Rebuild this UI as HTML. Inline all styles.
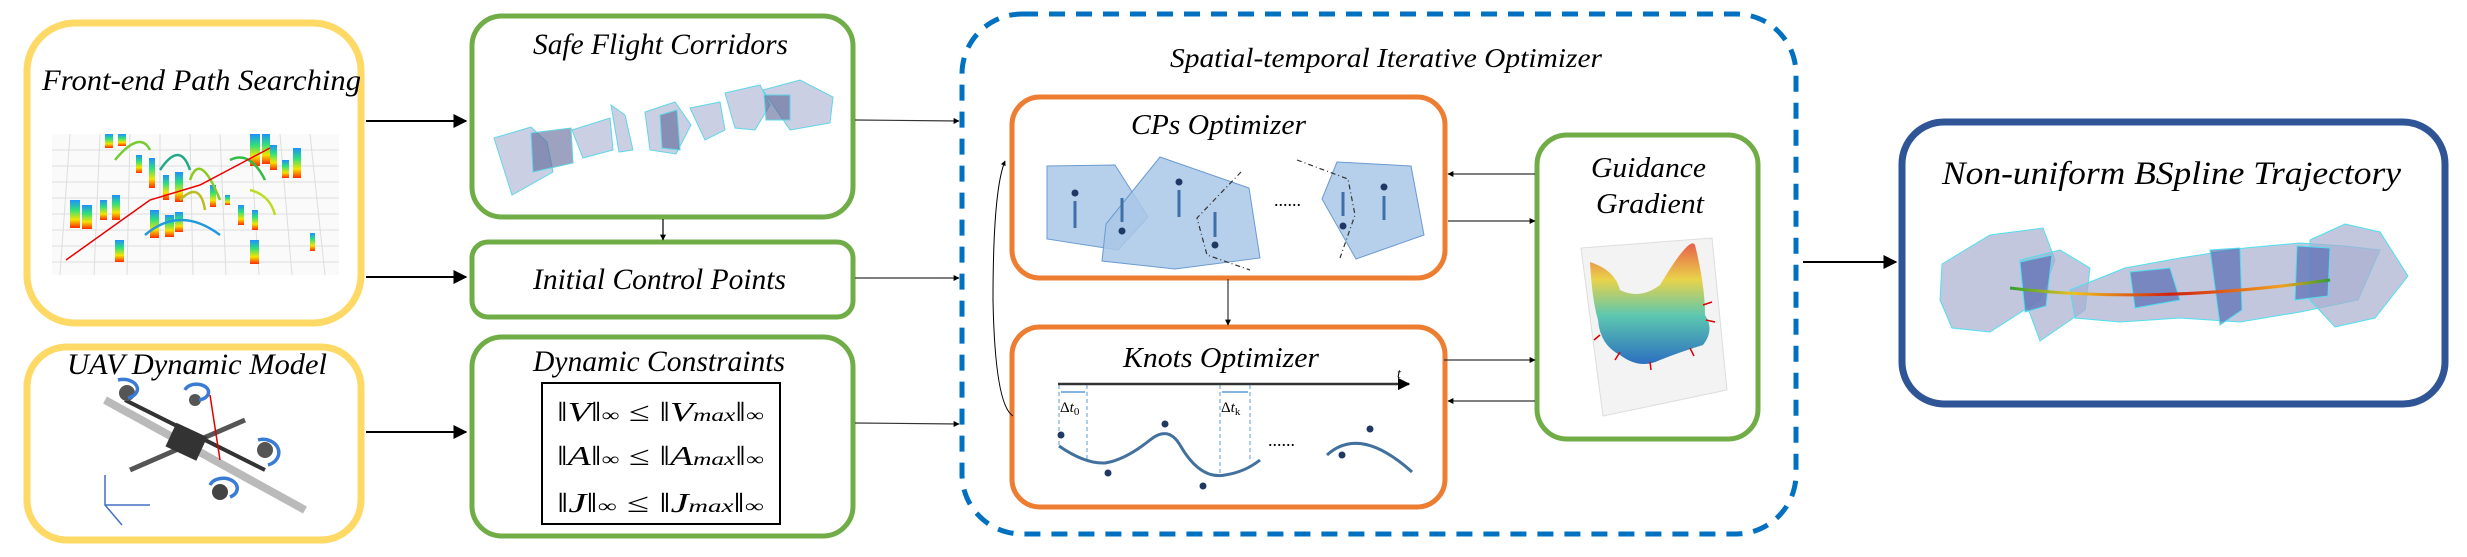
<!DOCTYPE html>
<html><head><meta charset="utf-8"><style>
html,body{margin:0;padding:0;background:#fff}
svg{display:block}
svg text{font-family:"Liberation Serif","Times New Roman","DejaVu Serif",serif;font-style:italic;fill:#000}
</style></head><body>
<svg width="2467" height="557" viewBox="0 0 2467 557" xmlns="http://www.w3.org/2000/svg" font-family="'Liberation Serif', 'Times New Roman', 'DejaVu Serif', serif">
<defs>
<marker id="ah" viewBox="0 0 10 10" refX="9" refY="5" markerWidth="7" markerHeight="7" orient="auto-start-reverse"><path d="M0,0 L10,5 L0,10 z" fill="#000"/></marker>
<marker id="ahs" viewBox="0 0 10 10" refX="9" refY="5" markerWidth="5" markerHeight="5" orient="auto-start-reverse"><path d="M0,0 L10,5 L0,10 z" fill="#000"/></marker>
<linearGradient id="bar" x1="0" y1="0" x2="0" y2="1"><stop offset="0" stop-color="#1e90ff"/><stop offset="0.35" stop-color="#2fe07a"/><stop offset="0.7" stop-color="#f5e400"/><stop offset="1" stop-color="#ff2a00"/></linearGradient>
<linearGradient id="surf" x1="0" y1="0" x2="0" y2="1"><stop offset="0" stop-color="#e8604a"/><stop offset="0.3" stop-color="#e9d34a"/><stop offset="0.6" stop-color="#5cc7b0"/><stop offset="1" stop-color="#2c6fc0"/></linearGradient>
<linearGradient id="traj" x1="0" y1="0" x2="1" y2="0"><stop offset="0" stop-color="#2fa02f"/><stop offset="0.2" stop-color="#f0c020"/><stop offset="0.5" stop-color="#d02010"/><stop offset="0.85" stop-color="#f0a020"/><stop offset="1" stop-color="#2fa02f"/></linearGradient>
</defs>

<rect x="27" y="23" width="334" height="300" rx="48" fill="none" stroke="#FFD966" stroke-width="7"/>
<rect x="27" y="347" width="334" height="193" rx="40" fill="none" stroke="#FFD966" stroke-width="7"/>
<text x="42" y="90" font-size="30" textLength="319" lengthAdjust="spacingAndGlyphs">Front-end Path Searching</text>
<text x="67" y="374" font-size="30" textLength="260" lengthAdjust="spacingAndGlyphs">UAV Dynamic Model</text>

<g>
<rect x="52" y="134" width="287" height="141" fill="#fafafa"/>
<g stroke="#ddd" stroke-width="1">
<path d="M52,150H339M52,166H339M52,182H339M52,198H339M52,214H339M52,230H339M52,246H339M52,262H339"/>
<path d="M70,134L60,275M100,134L94,275M130,134L127,275M160,134L160,275M190,134L193,275M220,134L226,275M250,134L259,275M280,134L292,275M310,134L325,275"/>
</g>
<g fill="url(#bar)">
<rect x="105" y="134" width="8" height="14"/><rect x="118" y="134" width="8" height="12"/><rect x="136" y="155" width="6" height="18"/><rect x="149" y="158" width="6" height="30"/><rect x="175" y="172" width="8" height="30"/><rect x="163" y="175" width="6" height="25"/>
<rect x="250" y="134" width="10" height="32"/><rect x="262" y="134" width="8" height="30"/><rect x="270" y="145" width="7" height="25"/><rect x="293" y="148" width="8" height="30"/><rect x="282" y="160" width="7" height="18"/>
<rect x="70" y="200" width="10" height="28"/><rect x="82" y="205" width="10" height="24"/><rect x="100" y="200" width="7" height="20"/><rect x="112" y="195" width="8" height="25"/><rect x="150" y="210" width="9" height="28"/><rect x="165" y="215" width="9" height="22"/><rect x="175" y="212" width="8" height="20"/>
<rect x="210" y="185" width="6" height="22"/><rect x="225" y="195" width="5" height="10"/><rect x="238" y="205" width="6" height="20"/><rect x="252" y="210" width="6" height="20"/><rect x="115" y="240" width="9" height="22"/><rect x="250" y="240" width="9" height="24"/><rect x="310" y="233" width="5" height="18"/>
</g>
<g fill="none" stroke-width="2.5">
<path d="M115,160 Q140,130 150,150" stroke="#7c3"/><path d="M160,170 Q180,140 190,170" stroke="#2a8"/><path d="M190,180 Q200,150 220,200" stroke="#8c2"/>
<path d="M145,235 Q180,205 220,235" stroke="#29d"/><path d="M180,200 Q200,180 205,210" stroke="#bb2"/><path d="M250,190 Q270,195 275,215" stroke="#bd2"/><path d="M230,160 Q250,150 265,180" stroke="#3b4"/>
</g>
<path d="M66,260 L150,200 L200,185 L270,148" stroke="#e00" stroke-width="1.5" fill="none"/>
</g>

<g>
<path d="M105,400 L305,510" stroke="#777" stroke-width="8" opacity="0.5"/>
<path d="M125,400 L265,470" stroke="#333" stroke-width="4"/>
<path d="M130,470 L245,420" stroke="#555" stroke-width="5"/>
<rect x="170" y="428" width="34" height="26" fill="#333" transform="rotate(25 185 440)"/>
<circle cx="127" cy="393" r="8" fill="#555"/><circle cx="195" cy="400" r="6" fill="#555"/><circle cx="265" cy="450" r="8" fill="#555"/><circle cx="220" cy="492" r="8" fill="#444"/>
<g fill="none" stroke="#3a7bd5" stroke-width="3.5"><path d="M118,380 a12,8 0 1 1 10,18"/><path d="M185,390 a12,8 0 1 1 14,10"/><path d="M258,440 a12,10 0 1 1 10,25"/><path d="M210,485 a14,10 0 1 1 20,12"/></g>
<path d="M105,475 V505 H150 M105,505 L122,525" stroke="#4472c4" stroke-width="1.5" fill="none"/>
<path d="M210,395 L220,460" stroke="#d00" stroke-width="1.5"/>
</g>

<rect x="472" y="16" width="381" height="201" rx="30" fill="none" stroke="#70AD47" stroke-width="5"/>
<rect x="472" y="242" width="381" height="75" rx="16" fill="none" stroke="#70AD47" stroke-width="5"/>
<rect x="472" y="337" width="381" height="199" rx="30" fill="none" stroke="#70AD47" stroke-width="5"/>
<text x="533" y="54" font-size="30" textLength="255" lengthAdjust="spacingAndGlyphs">Safe Flight Corridors</text>
<text x="533" y="289" font-size="30" textLength="253" lengthAdjust="spacingAndGlyphs">Initial Control Points</text>
<text x="533" y="371" font-size="30" textLength="252" lengthAdjust="spacingAndGlyphs">Dynamic Constraints</text>

<g fill="#a9afd0" fill-opacity="0.6" stroke="#5fd6e8" stroke-width="1">
<polygon points="494,138 531,127 547,142 553,172 512,195"/>
<polygon points="531,133 571,128 573,163 533,172" fill="#5a6494"/>
<polygon points="572,130 610,118 613,150 583,158"/>
<polygon points="611,105 625,115 633,150 619,152"/>
<polygon points="645,112 675,102 691,125 676,154 650,150" />
<polygon points="660,115 677,110 680,150 662,148" fill="#5a6494"/>
<polygon points="690,108 720,102 725,130 705,140"/>
<polygon points="725,93 760,85 770,105 755,130 735,128"/>
<polygon points="763,90 800,80 833,97 830,123 790,130"/>
<polygon points="764,95 790,95 790,120 766,120" fill="#5a6494"/>
</g>

<rect x="542" y="383" width="238" height="141" fill="#fff" stroke="#000" stroke-width="2"/>
<g font-size="27" font-style="normal">
<text x="557" y="421" textLength="207" lengthAdjust="spacingAndGlyphs" style="font-style:normal">‖<tspan style="font-style:italic">V</tspan>‖<tspan font-size="18">∞</tspan> ≤ ‖<tspan style="font-style:italic">V<tspan font-size="18">max</tspan></tspan>‖<tspan font-size="18">∞</tspan></text>
<text x="557" y="465" textLength="207" lengthAdjust="spacingAndGlyphs" style="font-style:normal">‖<tspan style="font-style:italic">A</tspan>‖<tspan font-size="18">∞</tspan> ≤ ‖<tspan style="font-style:italic">A<tspan font-size="18">max</tspan></tspan>‖<tspan font-size="18">∞</tspan></text>
<text x="557" y="512" textLength="207" lengthAdjust="spacingAndGlyphs" style="font-style:normal">‖<tspan style="font-style:italic">J</tspan>‖<tspan font-size="18">∞</tspan> ≤ ‖<tspan style="font-style:italic">J<tspan font-size="18">max</tspan></tspan>‖<tspan font-size="18">∞</tspan></text>
</g>

<g stroke="#000" stroke-width="2" fill="none">
<line x1="366" y1="121" x2="466" y2="121" marker-end="url(#ah)"/>
<line x1="366" y1="277" x2="466" y2="277" marker-end="url(#ah)"/>
<line x1="366" y1="432" x2="466" y2="432" marker-end="url(#ah)"/>
</g>
<line x1="663" y1="219" x2="663" y2="240" stroke="#000" stroke-width="1.2" marker-end="url(#ahs)"/>
<g stroke="#333" stroke-width="1.2">
<line x1="855" y1="120" x2="959" y2="121" marker-end="url(#ahs)"/>
<line x1="855" y1="278" x2="959" y2="278" marker-end="url(#ahs)"/>
<line x1="855" y1="423" x2="959" y2="424" marker-end="url(#ahs)"/>
</g>

<rect x="962" y="14" width="834" height="520" rx="60" fill="none" stroke="#0070C0" stroke-width="5" stroke-dasharray="16,11"/>
<text x="1170" y="67" font-size="27" textLength="432" lengthAdjust="spacingAndGlyphs">Spatial-temporal Iterative Optimizer</text>

<rect x="1012" y="97" width="433" height="181" rx="28" fill="none" stroke="#ED7D31" stroke-width="5"/>
<text x="1131" y="134" font-size="29" textLength="175" lengthAdjust="spacingAndGlyphs">CPs Optimizer</text>
<g fill="#a9c7e8" fill-opacity="0.85" stroke="#6a9bd0" stroke-width="1">
<polygon points="1047,166 1115,165 1148,217 1118,250 1047,239"/>
<polygon points="1160,157 1249,188 1260,258 1175,269 1102,261 1106,224"/>
<polygon points="1337,162 1411,166 1424,235 1356,259 1322,199"/>
</g>
<g fill="none" stroke="#333" stroke-width="1.2" stroke-dasharray="5,3,1,3">
<path d="M1241,172 L1197,218 L1207,255 L1250,270"/><path d="M1297,160 L1348,179 L1355,215 L1340,258"/>
</g>
<g fill="#1f3864"><circle cx="1075" cy="193" r="3.5"/><circle cx="1122" cy="231" r="3.5"/><circle cx="1179" cy="182" r="3.5"/><circle cx="1215" cy="245" r="3.5"/><circle cx="1343" cy="226" r="3.5"/><circle cx="1384" cy="187" r="3.5"/></g>
<g stroke="#3d6fa8" stroke-width="3"><line x1="1075" y1="201" x2="1075" y2="228"/><line x1="1122" y1="222" x2="1122" y2="198"/><line x1="1179" y1="190" x2="1179" y2="217"/><line x1="1215" y1="237" x2="1215" y2="212"/><line x1="1343" y1="216" x2="1343" y2="192"/><line x1="1384" y1="196" x2="1384" y2="220"/></g>
<text x="1274" y="206" font-size="18" style="font-style:normal">......</text>

<rect x="1012" y="327" width="433" height="180" rx="28" fill="none" stroke="#ED7D31" stroke-width="5"/>
<text x="1123" y="367" font-size="29" textLength="196" lengthAdjust="spacingAndGlyphs">Knots Optimizer</text>
<line x1="1058" y1="384" x2="1409" y2="384" stroke="#333" stroke-width="2.5" marker-end="url(#ahs)"/>
<text x="1397" y="378" font-size="14">t</text>
<g stroke="#5b9bd5" stroke-width="1" stroke-dasharray="4,3"><line x1="1059" y1="385" x2="1059" y2="445"/><line x1="1087" y1="385" x2="1087" y2="460"/><line x1="1220" y1="385" x2="1220" y2="473"/><line x1="1250" y1="385" x2="1250" y2="462"/></g>
<g stroke="#5b9bd5" stroke-width="1.5"><line x1="1061" y1="392" x2="1085" y2="392"/><line x1="1222" y1="392" x2="1248" y2="392"/></g>
<text x="1060" y="412" font-size="15" style="font-style:normal">Δ<tspan style="font-style:italic">t</tspan><tspan font-size="11" dy="3">0</tspan></text>
<text x="1221" y="412" font-size="15" style="font-style:normal">Δ<tspan style="font-style:italic">t</tspan><tspan font-size="11" dy="3">k</tspan></text>
<path d="M1059,446 Q1085,464 1105,463 Q1125,460 1150,440 Q1168,425 1180,445 Q1200,480 1225,475 Q1245,472 1260,460" fill="none" stroke="#41719c" stroke-width="3"/>
<path d="M1327,455 Q1360,425 1412,472" fill="none" stroke="#41719c" stroke-width="3"/>
<g fill="#1f3864"><circle cx="1061" cy="435" r="3.5"/><circle cx="1108" cy="473" r="3.5"/><circle cx="1165" cy="424" r="3.5"/><circle cx="1203" cy="486" r="3.5"/><circle cx="1342" cy="455" r="3.5"/><circle cx="1370" cy="429" r="3.5"/></g>
<text x="1268" y="446" font-size="18" style="font-style:normal">......</text>

<line x1="1228" y1="279" x2="1228" y2="325" stroke="#333" stroke-width="1.2" marker-end="url(#ahs)"/>
<path d="M1013,416 Q995,405 993,300 Q993,190 1005,161" fill="none" stroke="#000" stroke-width="1" marker-end="url(#ahs)"/>

<rect x="1537" y="135" width="221" height="304" rx="30" fill="none" stroke="#70AD47" stroke-width="5"/>
<text x="1591" y="177" font-size="29" textLength="115" lengthAdjust="spacingAndGlyphs">Guidance</text>
<text x="1596" y="213" font-size="29" textLength="108" lengthAdjust="spacingAndGlyphs">Gradient</text>
<g>
<polygon points="1581,248 1712,238 1727,390 1603,416" fill="#f3f3f3" stroke="#ddd"/>
<path d="M1590,262 Q1615,270 1620,290 Q1640,300 1660,285 Q1690,235 1695,245 Q1705,285 1705,315 Q1715,330 1703,345 Q1680,352 1660,360 Q1640,370 1620,355 Q1600,345 1598,320 Q1592,300 1590,262 z" fill="url(#surf)"/>
<g stroke="#d00" stroke-width="1.5"><line x1="1703" y1="305" x2="1712" y2="302"/><line x1="1706" y1="320" x2="1715" y2="322"/><line x1="1690" y1="348" x2="1694" y2="356"/><line x1="1650" y1="362" x2="1651" y2="370"/><line x1="1620" y1="352" x2="1615" y2="360"/><line x1="1600" y1="335" x2="1594" y2="340"/></g>
</g>
<g stroke="#333" stroke-width="1.2">
<line x1="1535" y1="174" x2="1448" y2="174" marker-end="url(#ahs)"/>
<line x1="1448" y1="221" x2="1535" y2="221" marker-end="url(#ahs)"/>
<line x1="1444" y1="360" x2="1535" y2="360" marker-end="url(#ahs)"/>
<line x1="1535" y1="401" x2="1448" y2="401" marker-end="url(#ahs)"/>
</g>

<line x1="1803" y1="262" x2="1896" y2="262" stroke="#000" stroke-width="2" marker-end="url(#ah)"/>
<rect x="1902" y="122" width="543" height="282" rx="42" fill="none" stroke="#2F5597" stroke-width="7"/>
<text x="1942" y="184" font-size="33" textLength="459" lengthAdjust="spacingAndGlyphs">Non-uniform BSpline Trajectory</text>
<g fill="#a9afd0" fill-opacity="0.7" stroke="#4fe0f0" stroke-width="1">
<polygon points="1942,264 1990,235 2043,228 2055,260 2040,300 1990,332 1952,328 1940,300"/>
<polygon points="2020,260 2060,250 2090,268 2085,310 2040,341 2025,300"/>
<polygon points="2070,290 2125,268 2180,258 2245,248 2300,243 2345,246 2380,250 2358,300 2300,312 2240,322 2180,318 2120,322 2075,318"/>
<polygon points="2310,240 2345,224 2380,232 2408,276 2375,318 2335,327 2310,300"/>
<polygon points="2130,272 2170,268 2180,300 2135,308" fill="#5a6cb4"/>
<polygon points="2210,250 2240,248 2242,310 2220,325" fill="#5a6cb4"/>
<polygon points="2297,246 2330,248 2328,296 2295,300" fill="#5a6cb4"/>
<polygon points="2020,262 2052,255 2046,306 2025,312" fill="#5a6cb4"/>
</g>
<path d="M2010,288 Q2150,305 2330,280" fill="none" stroke="url(#traj)" stroke-width="3"/>
</svg>
</body></html>
